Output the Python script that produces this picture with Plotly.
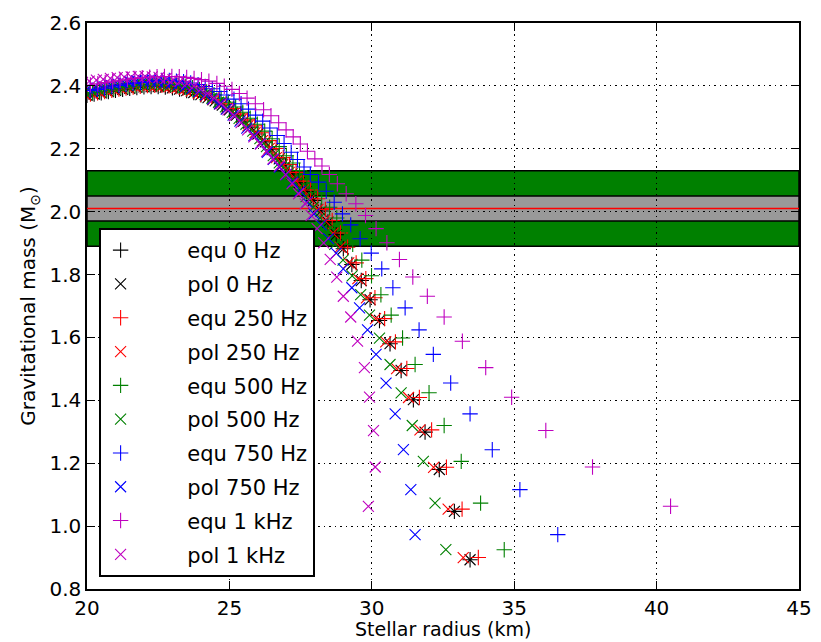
import plotly.graph_objects as go

# ---------------- data ----------------
# 0 Hz (non-rotating): equatorial radius == polar radius
M_0HZ = [0.893, 1.047, 1.180, 1.299, 1.402, 1.495, 1.580, 1.654, 1.720, 1.781,
         1.832, 1.882, 1.927, 1.967, 2.002, 2.036, 2.064, 2.092, 2.120, 2.145,
         2.168, 2.197, 2.222, 2.247, 2.269, 2.288, 2.307, 2.324, 2.339, 2.352,
         2.363, 2.372, 2.379, 2.385, 2.390, 2.394, 2.396, 2.398, 2.398, 2.397,
         2.395, 2.392, 2.389, 2.386, 2.382, 2.378, 2.374, 2.370, 2.366]
R_0HZ = [33.45, 32.90, 32.37, 31.87, 31.46, 31.03, 30.64, 30.27, 29.94, 29.63,
         29.30, 29.00, 28.75, 28.46, 28.22, 27.95, 27.70, 27.45, 27.20, 26.97,
         26.75, 26.50, 26.26, 26.00, 25.75, 25.50, 25.25, 25.00, 24.75, 24.50,
         24.25, 24.00, 23.75, 23.50, 23.25, 23.00, 22.75, 22.50, 22.25, 22.00,
         21.75, 21.50, 21.25, 21.00, 20.75, 20.50, 20.25, 20.00, 19.75]

# 250 Hz
M_250 = [0.900, 1.054, 1.187, 1.306, 1.409, 1.501, 1.586, 1.660, 1.726, 1.787,
         1.837, 1.887, 1.932, 1.972, 2.007, 2.041, 2.069, 2.097, 2.125, 2.150,
         2.172, 2.201, 2.226, 2.251, 2.273, 2.292, 2.311, 2.328, 2.343, 2.356,
         2.367, 2.376, 2.383, 2.389, 2.394, 2.398, 2.400, 2.402, 2.402, 2.401,
         2.399, 2.396, 2.393, 2.390, 2.386, 2.382, 2.378, 2.374, 2.370]
REQ_250 = [33.74, 33.17, 32.62, 32.10, 31.67, 31.23, 30.83, 30.45, 30.11, 29.79,
           29.45, 29.15, 28.90, 28.61, 28.37, 28.10, 27.85, 27.60, 27.34, 27.11,
           26.89, 26.64, 26.40, 26.14, 25.89, 25.64, 25.39, 25.14, 24.88, 24.63,
           24.38, 24.13, 23.88, 23.63, 23.38, 23.13, 22.88, 22.63, 22.38, 22.12,
           21.87, 21.62, 21.37, 21.12, 20.87, 20.62, 20.37, 20.12, 19.87]
RPOL_250 = [33.21, 32.68, 32.17, 31.69, 31.29, 30.87, 30.49, 30.13, 29.81, 29.51,
            29.19, 28.89, 28.64, 28.35, 28.11, 27.84, 27.60, 27.35, 27.10, 26.87,
            26.65, 26.40, 26.16, 25.90, 25.65, 25.40, 25.15, 24.90, 24.66, 24.41,
            24.16, 23.91, 23.66, 23.41, 23.16, 22.91, 22.66, 22.41, 22.16, 21.91,
            21.66, 21.41, 21.16, 20.91, 20.66, 20.41, 20.16, 19.91, 19.66]

# 500 Hz
M_500 = [0.925, 1.073, 1.206, 1.320, 1.424, 1.514, 1.598, 1.671, 1.736, 1.796,
         1.846, 1.896, 1.940, 1.980, 2.014, 2.048, 2.075, 2.103, 2.131, 2.155,
         2.178, 2.207, 2.232, 2.256, 2.278, 2.297, 2.316, 2.333, 2.348, 2.361,
         2.372, 2.381, 2.388, 2.394, 2.399, 2.403, 2.405, 2.407, 2.407, 2.406,
         2.404, 2.401, 2.398, 2.395, 2.391, 2.387, 2.383, 2.379, 2.375]
REQ_500 = [34.65, 33.82, 33.14, 32.54, 32.01, 31.52, 31.08, 30.68, 30.32, 29.99,
           29.65, 29.33, 29.07, 28.77, 28.52, 28.24, 27.98, 27.72, 27.46, 27.23,
           27.00, 26.75, 26.50, 26.24, 25.98, 25.73, 25.47, 25.22, 24.96, 24.71,
           24.46, 24.20, 23.95, 23.70, 23.45, 23.20, 22.94, 22.69, 22.44, 22.19,
           21.94, 21.69, 21.44, 21.19, 20.94, 20.69, 20.44, 20.19, 19.94]
RPOL_500 = [32.60, 32.22, 31.81, 31.42, 31.03, 30.64, 30.27, 29.92, 29.61, 29.31,
            28.99, 28.70, 28.46, 28.18, 27.95, 27.69, 27.45, 27.21, 26.97, 26.75,
            26.54, 26.30, 26.07, 25.82, 25.58, 25.34, 25.10, 24.86, 24.62, 24.38,
            24.14, 23.89, 23.65, 23.40, 23.16, 22.91, 22.67, 22.42, 22.17, 21.93,
            21.68, 21.43, 21.18, 20.93, 20.68, 20.43, 20.18, 19.93, 19.68]

# 750 Hz
M_750 = [0.973, 1.116, 1.243, 1.357, 1.455, 1.546, 1.624, 1.694, 1.758, 1.818,
         1.868, 1.914, 1.958, 1.993, 2.030, 2.065, 2.094, 2.118, 2.142, 2.166,
         2.189, 2.217, 2.242, 2.266, 2.288, 2.307, 2.326, 2.343, 2.358, 2.371,
         2.382, 2.391, 2.398, 2.404, 2.409, 2.413, 2.415, 2.417, 2.417, 2.416,
         2.414, 2.411, 2.408, 2.405, 2.401, 2.397, 2.393, 2.389, 2.385]
REQ_750 = [36.53, 35.20, 34.23, 33.45, 32.77, 32.16, 31.66, 31.17, 30.74, 30.35,
           29.98, 29.59, 29.26, 28.97, 28.68, 28.40, 28.13, 27.84, 27.62, 27.39,
           27.17, 26.92, 26.68, 26.42, 26.17, 25.92, 25.67, 25.41, 25.16, 24.91,
           24.66, 24.40, 24.15, 23.90, 23.64, 23.39, 23.14, 22.89, 22.63, 22.38,
           22.13, 21.88, 21.62, 21.37, 21.12, 20.87, 20.62, 20.36, 20.11]
RPOL_750 = [31.52, 31.37, 31.11, 30.82, 30.50, 30.15, 29.85, 29.57, 29.30, 29.00,
            28.75, 28.48, 28.22, 27.97, 27.72, 27.48, 27.22, 26.99, 26.76, 26.54,
            26.33, 26.09, 25.86, 25.61, 25.37, 25.13, 24.89, 24.65, 24.41, 24.17,
            23.93, 23.69, 23.45, 23.21, 22.96, 22.72, 22.47, 22.23, 21.98, 21.74,
            21.49, 21.25, 21.00, 20.76, 20.51, 20.27, 20.02, 19.78, 19.53]

# 1 kHz
M_1K = [1.063, 1.188, 1.304, 1.410, 1.504, 1.588, 1.665, 1.731, 1.792, 1.848,
        1.901, 1.946, 1.988, 2.025, 2.057, 2.089, 2.118, 2.145, 2.168, 2.192,
        2.215, 2.238, 2.260, 2.283, 2.305, 2.324, 2.343, 2.361, 2.376, 2.389,
        2.399, 2.408, 2.415, 2.420, 2.424, 2.427, 2.429, 2.430, 2.430, 2.429,
        2.428, 2.426, 2.424, 2.421, 2.418, 2.415, 2.411, 2.407, 2.403]
REQ_1K = [40.49, 37.75, 36.11, 34.91, 34.00, 33.18, 32.54, 31.95, 31.44, 30.97,
          30.53, 30.15, 29.78, 29.44, 29.10, 28.79, 28.51, 28.25, 28.00, 27.74,
          27.49, 27.24, 26.99, 26.73, 26.46, 26.20, 25.91, 25.62, 25.35, 25.09,
          24.82, 24.56, 24.28, 24.02, 23.76, 23.50, 23.24, 22.98, 22.72, 22.46,
          22.20, 21.94, 21.68, 21.42, 21.16, 20.90, 20.64, 20.38, 20.12]
RPOL_1K = [29.88, 30.12, 30.06, 29.92, 29.74, 29.50, 29.26, 29.00, 28.77, 28.54,
           28.31, 28.08, 27.87, 27.66, 27.43, 27.20, 26.97, 26.75, 26.53, 26.31,
           26.09, 25.86, 25.64, 25.41, 25.18, 24.95, 24.71, 24.47, 24.23, 23.99,
           23.75, 23.51, 23.27, 23.02, 22.78, 22.53, 22.29, 22.04, 21.80, 21.55,
           21.31, 21.06, 20.82, 20.57, 20.33, 20.08, 19.84, 19.59, 19.35]

# observed pulsar mass constraint (central value and bands)
MEASURED_MASS = 2.01
BAND_INNER = [1.97, 2.05]
BAND_OUTER = [1.89, 2.13]

X_TICKS = [20, 25, 30, 35, 40, 45]
Y_TICKS = [0.8, 1.0, 1.2, 1.4, 1.6, 1.8, 2.0, 2.2, 2.4, 2.6]

SERIES = [
    ("equ 0 Hz", R_0HZ, M_0HZ, "cross-thin", "#000000"),
    ("pol 0 Hz", R_0HZ, M_0HZ, "x-thin", "#000000"),
    ("equ 250 Hz", REQ_250, M_250, "cross-thin", "#ff0000"),
    ("pol 250 Hz", RPOL_250, M_250, "x-thin", "#ff0000"),
    ("equ 500 Hz", REQ_500, M_500, "cross-thin", "#008000"),
    ("pol 500 Hz", RPOL_500, M_500, "x-thin", "#008000"),
    ("equ 750 Hz", REQ_750, M_750, "cross-thin", "#0000ff"),
    ("pol 750 Hz", RPOL_750, M_750, "x-thin", "#0000ff"),
    ("equ 1 kHz", REQ_1K, M_1K, "cross-thin", "#bf00bf"),
    ("pol 1 kHz", RPOL_1K, M_1K, "x-thin", "#bf00bf"),
]

FONT = "DejaVu Sans"
PAD = "\u00a0" * 7   # leaves room as in the two-marker legend of the reference

fig = go.Figure()
for name, xs, ys, sym, col in SERIES:
    fig.add_trace(go.Scatter(
        x=xs, y=ys, mode="markers", name=PAD + name, legendgroup=name,
        marker=dict(symbol=sym, size=11, color=col,
                    line=dict(width=1.1, color=col)),
    ))

# bands (drawn below the grid)
fig.add_shape(type="rect", xref="x domain", yref="y", x0=0, x1=1,
              y0=BAND_OUTER[0], y1=BAND_OUTER[1], fillcolor="#008000",
              line=dict(color="black", width=1.5), layer="below")
fig.add_shape(type="rect", xref="x domain", yref="y", x0=0, x1=1,
              y0=BAND_INNER[0], y1=BAND_INNER[1], fillcolor="#999999",
              line=dict(color="black", width=1.5), layer="below")
fig.add_shape(type="line", xref="x domain", yref="y", x0=0, x1=1,
              y0=MEASURED_MASS, y1=MEASURED_MASS,
              line=dict(color="#ff0000", width=1.5), layer="below")

# x-axis title as an annotation so it sits just inside the bottom edge
fig.add_annotation(text="Stellar radius (km)", xref="paper", yref="paper",
                   x=0.5, y=0, xanchor="center", yanchor="top", yshift=-28,
                   borderpad=0, showarrow=False,
                   font=dict(family=FONT, size=19, color="black"))

axis_common = dict(
    showline=True, linecolor="black", linewidth=1.5, mirror="ticks",
    ticks="inside", ticklen=8, tickwidth=1.2, tickcolor="black",
    showgrid=True, gridcolor="black", gridwidth=1, griddash="1.5px,4px",
    zeroline=False, tickfont=dict(family=FONT, size=20, color="black"),
)

# the page body adds an 8px offset; size and margins compensate for it
fig.update_layout(
    width=813, height=634,
    margin=dict(l=79, r=22, t=15, b=53),
    paper_bgcolor="white", plot_bgcolor="white",
    font=dict(family=FONT, color="black"),
    xaxis=dict(range=[20, 45], tickvals=X_TICKS, ticktext=[str(v) for v in X_TICKS],
               automargin=False, **axis_common),
    yaxis=dict(range=[0.8, 2.6], tickvals=Y_TICKS,
               ticktext=[f"{v:.1f}" for v in Y_TICKS],
               title=dict(text="Gravitational mass (M<sub>⊙</sub>)",
                          font=dict(family=FONT, size=20), standoff=8),
               automargin=False, **axis_common),
    legend=dict(x=0.0163, y=0.0212, xanchor="left", yanchor="bottom",
                bgcolor="white", bordercolor="black", borderwidth=2,
                font=dict(family=FONT, size=21, color="black"),
                traceorder="grouped", tracegroupgap=3.5),
    showlegend=True,
)

fig.write_html("out.html")
